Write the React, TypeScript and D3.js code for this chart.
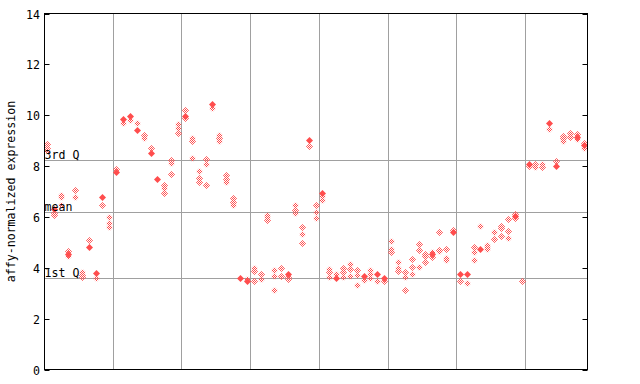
import React from "react";
import * as d3 from "d3";

// filled marker value per sample (null = none)
const filledValues: (number | null)[] = [
  null, 6.3, null, 4.55, null, null, 4.82, 3.79, 6.79, null,
  7.77, 9.87, 9.98, 9.43, null, 8.51, 7.5, null, null, null,
  9.97, null, null, null, 10.43, null, null, null, 3.61, 3.48,
  null, null, null, null, null, 3.74, null, null, 9.02, null,
  6.95, null, 3.6, null, null, null, 3.68, null, 3.77, 3.61,
  null, null, null, null, null, null, 4.53, null, null, 5.4,
  3.76, 3.76, null, 4.75, null, null, null, null, 6.03, null,
  8.1, null, null, 9.68, 8.01, null, null, 9.15, 8.82,
];

// hollow (checkered) marker values per sample
const hollowValues: number[][] = [
  [8.85, 8.72, 8.6], [6.17, 6.08], [6.87, 6.78, 6.45], [4.66, 4.45], [7.05, 6.8],
  [3.85, 3.72, 3.62], [5.11], [3.61], [6.46], [6.01, 5.76, 5.59],
  [7.9], [9.71], [9.8], [9.68], [9.24, 9.09],
  [8.73], [], [7.25, 7.14, 6.94], [8.22, 8.12, 7.7], [9.64, 9.48, 9.31],
  [10.22, 9.88], [9.1, 8.98, 8.33], [7.8, 7.55, 7.37], [8.26, 8.07, 7.25], [10.29],
  [9.24, 9.11, 8.98], [7.66, 7.5, 7.38], [6.73, 6.6, 6.47], [], [3.56],
  [3.98, 3.88, 3.47], [3.74, 3.57], [6.08, 5.98, 5.88], [3.93, 3.66, 3.11], [4.0, 3.69],
  [3.62, 3.55], [6.45, 6.26, 6.17], [5.59, 5.34, 4.99], [8.78], [6.45, 6.18, 5.97],
  [6.83, 6.68], [3.97, 3.83, 3.64], [3.74], [4.0, 3.83, 3.64], [4.16, 3.97, 3.68],
  [3.9, 3.73, 3.34], [3.53], [3.93, 3.77, 3.6], [3.47], [3.48],
  [5.04, 4.75, 4.62], [4.21, 3.99, 3.86], [3.82, 3.64, 3.14], [4.33, 4.04, 3.77], [4.95, 4.71, 4.02],
  [4.55, 4.46, 4.22], [4.62, 4.44], [5.4, 4.71, 4.65], [4.73, 4.4, 4.32], [5.48],
  [3.47], [3.41], [4.83, 4.63, 4.29], [5.65], [4.91, 4.82, 4.73],
  [5.42, 5.13], [5.65, 5.55, 5.24], [5.91, 5.43, 5.18], [6.13, 5.94], [3.5],
  [8.0], [8.07, 7.98], [8.07, 7.98], [9.45], [8.19],
  [9.2, 9.1, 8.98], [9.3, 9.2, 9.14], [9.27, 9.06], [8.92, 8.73],
];

const yTicks = [0, 2, 4, 6, 8, 10, 12, 14];
const refLines = [
  { label: "3rd Q", value: 8.22 },
  { label: "mean", value: 6.21 },
  { label: "1st Q", value: 3.61 },
];
const groupSize = 10;
const yTitle = "affy-normalized expression";

const W = 640;
const H = 384;
const L = 44.5, R = 587.5, T = 13.5, B = 369.5;
const RED = "#ff4d4d";
const GRID = "#a0a0a0";
const FONT = "'DejaVu Sans Mono', monospace";
const FS = 11.6;

export default function App() {
  const n = filledValues.length;
  const x = d3.scaleBand<number>().domain(d3.range(n)).range([L, R]).paddingInner(0).paddingOuter(0);
  const y = d3.scaleLinear().domain([0, 14]).range([B, T]);
  const cx = (i: number) => Math.floor((x(i) as number) + x.bandwidth() / 2) + 0.5;
  const cy = (v: number) => Math.round(y(v)) + 0.5;
  const snap = (v: number) => Math.floor(v) + 0.5;
  const diamond = (px: number, py: number, s: number) =>
    `M${px},${py - s}L${px + s},${py}L${px},${py + s}L${px - s},${py}Z`;

  const groupLines = d3.range(groupSize, n, groupSize).map((i) => snap(x(i) as number));

  return (
    <svg width={W} height={H} style={{ position: "absolute", left: 0, top: 0, background: "#fff" }}>
      <defs>
        <pattern id="chk" width="2" height="2" patternUnits="userSpaceOnUse">
          <rect x="0" y="0" width="1" height="1" fill={RED} />
          <rect x="1" y="1" width="1" height="1" fill={RED} />
        </pattern>
      </defs>
      <rect x={0} y={0} width={W} height={H} fill="#fff" />
      {groupLines.map((gx, k) => (
        <line key={"g" + k} x1={gx} x2={gx} y1={T} y2={B} stroke={GRID} strokeWidth={1} />
      ))}
      {refLines.map((r) => (
        <line key={r.label} x1={L} x2={R} y1={cy(r.value)} y2={cy(r.value)} stroke={GRID} strokeWidth={1} />
      ))}
      {hollowValues.map((vals, i) =>
        vals.map((v, j) => (
          <path key={`h${i}-${j}`} d={diamond(cx(i), cy(v), 3.5)} fill="url(#chk)" />
        ))
      )}
      {filledValues.map((v, i) =>
        v === null ? null : <path key={"f" + i} d={diamond(cx(i), cy(v), 3.5)} fill={RED} />
      )}
      <rect x={L} y={T} width={R - L} height={B - T} fill="none" stroke="#000" strokeWidth={1} />
      {yTicks.map((t) => (
        <g key={"t" + t}>
          <line x1={L} x2={L + 5} y1={cy(t)} y2={cy(t)} stroke="#000" />
          <line x1={R - 5} x2={R} y1={cy(t)} y2={cy(t)} stroke="#000" />
          <text x={40} y={cy(t) + 4} textAnchor="end" fontFamily={FONT} fontSize={FS} fill="#000">
            {t}
          </text>
        </g>
      ))}
      {refLines.map((r) => (
        <text key={"l" + r.label} x={L} y={cy(r.value) - 1.5} fontFamily={FONT} fontSize={FS} fill="#000">
          {r.label}
        </text>
      ))}
      <text
        transform={`translate(15,${(T + B) / 2}) rotate(-90)`}
        textAnchor="middle"
        fontFamily={FONT}
        fontSize={FS}
        fill="#000"
      >
        {yTitle}
      </text>
    </svg>
  );
}
